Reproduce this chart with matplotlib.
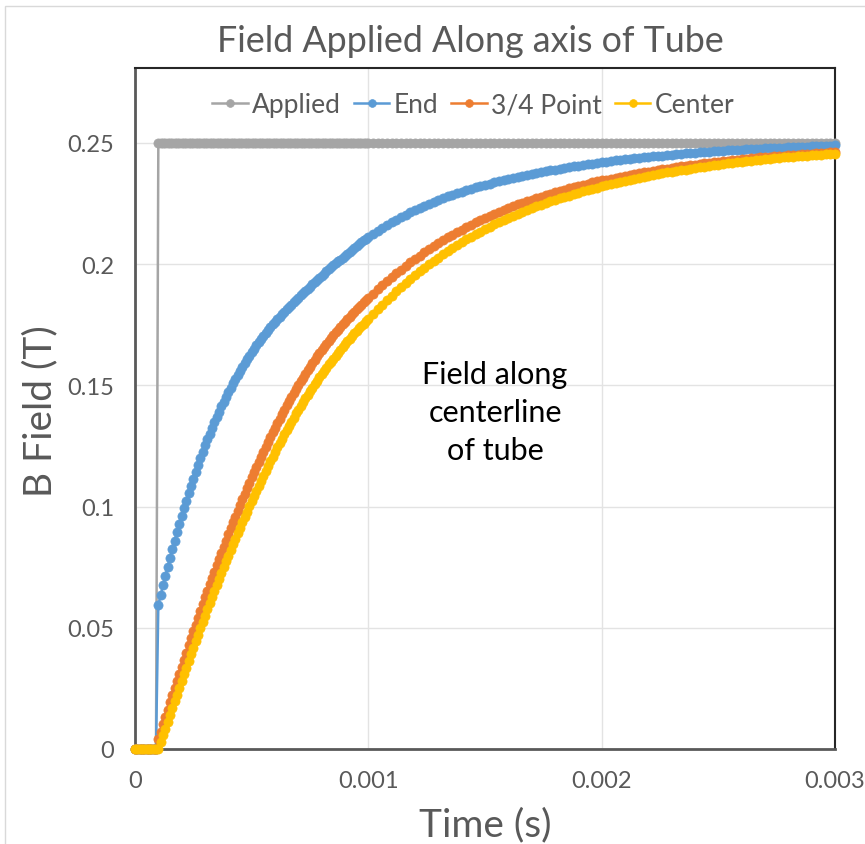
import matplotlib
matplotlib.use("Agg")
import matplotlib.pyplot as plt
from matplotlib.patches import Rectangle

# ---------------- data ----------------
# sampling grid: 10 us steps up to 1 ms, then 20 us steps to 3 ms
time_early = [round(i * 1e-5, 6) for i in range(101)]
time_late = [round(0.001 + i * 2e-5, 6) for i in range(1, 101)]
time_s = time_early + time_late

applied = [0.0] * 10 + [0.25] * 191

end_early = [0, 0, 0, 0, 0, 0, 0, 0, 0, 0,
             0.0594, 0.0635, 0.0675, 0.0714, 0.0752, 0.0789, 0.0825, 0.0860, 0.0895, 0.0929,
             0.0962, 0.0994, 0.1025, 0.1055, 0.1085, 0.1114, 0.1143, 0.1171, 0.1199, 0.1226,
             0.1252, 0.1277, 0.1301, 0.1325, 0.1348, 0.1370, 0.1392, 0.1413, 0.1433, 0.1453,
             0.1472, 0.1490, 0.1508, 0.1525, 0.1542, 0.1559, 0.1575, 0.1591, 0.1607, 0.1622,
             0.1637, 0.1651, 0.1665, 0.1678, 0.1691, 0.1704, 0.1716, 0.1728, 0.1740, 0.1751,
             0.1762, 0.1773, 0.1783, 0.1793, 0.1803, 0.1813, 0.1823, 0.1833, 0.1843, 0.1853,
             0.1862, 0.1871, 0.1880, 0.1889, 0.1898, 0.1907, 0.1916, 0.1925, 0.1934, 0.1943,
             0.1952, 0.1961, 0.1970, 0.1979, 0.1987, 0.1995, 0.2003, 0.2011, 0.2019, 0.2027,
             0.2035, 0.2043, 0.2051, 0.2059, 0.2067, 0.2075, 0.2083, 0.2091, 0.2098, 0.2105,
             0.2112]
end_late = [0.2125, 0.2137, 0.2149, 0.2161, 0.2172,
            0.2183, 0.2193, 0.2203, 0.2213, 0.2222,
            0.2231, 0.2240, 0.2248, 0.2256, 0.2264,
            0.2272, 0.2279, 0.2286, 0.2293, 0.2299,
            0.2305, 0.2311, 0.2317, 0.2322, 0.2327,
            0.2332, 0.2337, 0.2342, 0.2347, 0.2351,
            0.2356, 0.2360, 0.2364, 0.2368, 0.2372,
            0.2376, 0.2380, 0.2384, 0.2387, 0.2390,
            0.2394, 0.2397, 0.2400, 0.2403, 0.2406,
            0.2409, 0.2412, 0.2415, 0.2418, 0.2420,
            0.2423, 0.2426, 0.2428, 0.2430, 0.2432,
            0.2434, 0.2436, 0.2438, 0.2440, 0.2442,
            0.2444, 0.2446, 0.2448, 0.2450, 0.2451,
            0.2453, 0.2455, 0.2457, 0.2458, 0.2459,
            0.2461, 0.2462, 0.2464, 0.2465, 0.2466,
            0.2467, 0.2469, 0.2470, 0.2471, 0.2472,
            0.2473, 0.2474, 0.2475, 0.2476, 0.2477,
            0.2478, 0.2479, 0.2480, 0.2481, 0.2482,
            0.2483, 0.2484, 0.2484, 0.2485, 0.2486,
            0.2487, 0.2488, 0.2488, 0.2489, 0.2490]

three_quarter_early = [0, 0, 0, 0, 0, 0, 0, 0, 0, 0,
                       0.0040, 0.0071, 0.0102, 0.0132, 0.0162, 0.0192, 0.0222, 0.0252, 0.0282, 0.0311,
                       0.0340, 0.0369, 0.0398, 0.0427, 0.0456, 0.0485, 0.0513, 0.0541, 0.0569, 0.0597,
                       0.0625, 0.0652, 0.0679, 0.0706, 0.0732, 0.0758, 0.0784, 0.0810, 0.0835, 0.0860,
                       0.0885, 0.0910, 0.0935, 0.0959, 0.0983, 0.1007, 0.1030, 0.1053, 0.1076, 0.1098,
                       0.1120, 0.1142, 0.1164, 0.1185, 0.1206, 0.1227, 0.1247, 0.1267, 0.1287, 0.1306,
                       0.1325, 0.1344, 0.1363, 0.1381, 0.1399, 0.1417, 0.1434, 0.1451, 0.1468, 0.1484,
                       0.1500, 0.1516, 0.1532, 0.1547, 0.1562, 0.1577, 0.1591, 0.1605, 0.1619, 0.1632,
                       0.1645, 0.1658, 0.1671, 0.1683, 0.1695, 0.1707, 0.1719, 0.1730, 0.1741, 0.1752,
                       0.1763, 0.1773, 0.1783, 0.1793, 0.1803, 0.1813, 0.1823, 0.1833, 0.1842, 0.1851,
                       0.1860]
three_quarter_late = [0.1878, 0.1896, 0.1913, 0.1930, 0.1946,
                      0.1962, 0.1977, 0.1992, 0.2007, 0.2021,
                      0.2035, 0.2048, 0.2061, 0.2074, 0.2086,
                      0.2098, 0.2110, 0.2121, 0.2132, 0.2142,
                      0.2152, 0.2162, 0.2172, 0.2181, 0.2190,
                      0.2199, 0.2207, 0.2215, 0.2223, 0.2231,
                      0.2239, 0.2246, 0.2253, 0.2260, 0.2266,
                      0.2272, 0.2278, 0.2284, 0.2290, 0.2296,
                      0.2302, 0.2307, 0.2312, 0.2317, 0.2322,
                      0.2327, 0.2332, 0.2337, 0.2341, 0.2345,
                      0.2349, 0.2353, 0.2357, 0.2361, 0.2365,
                      0.2369, 0.2373, 0.2376, 0.2379, 0.2382,
                      0.2385, 0.2388, 0.2391, 0.2394, 0.2397,
                      0.2400, 0.2403, 0.2406, 0.2408, 0.2410,
                      0.2413, 0.2416, 0.2418, 0.2420, 0.2422,
                      0.2424, 0.2426, 0.2428, 0.2430, 0.2432,
                      0.2434, 0.2436, 0.2438, 0.2440, 0.2441,
                      0.2443, 0.2445, 0.2447, 0.2448, 0.2449,
                      0.2451, 0.2452, 0.2454, 0.2455, 0.2456,
                      0.2457, 0.2459, 0.2460, 0.2461, 0.2462]

center_early = [0, 0, 0, 0, 0, 0, 0, 0, 0, 0,
                0.0000, 0.0028, 0.0056, 0.0084, 0.0112, 0.0140, 0.0168, 0.0196, 0.0224, 0.0252,
                0.0280, 0.0308, 0.0336, 0.0363, 0.0390, 0.0417, 0.0444, 0.0471, 0.0498, 0.0524,
                0.0550, 0.0576, 0.0602, 0.0627, 0.0652, 0.0677, 0.0702, 0.0726, 0.0750, 0.0774,
                0.0797, 0.0821, 0.0844, 0.0867, 0.0890, 0.0913, 0.0935, 0.0957, 0.0979, 0.1001,
                0.1023, 0.1044, 0.1065, 0.1086, 0.1106, 0.1126, 0.1146, 0.1166, 0.1186, 0.1206,
                0.1225, 0.1244, 0.1262, 0.1280, 0.1298, 0.1316, 0.1333, 0.1350, 0.1367, 0.1384,
                0.1400, 0.1416, 0.1432, 0.1447, 0.1462, 0.1477, 0.1491, 0.1505, 0.1519, 0.1533,
                0.1547, 0.1560, 0.1573, 0.1586, 0.1598, 0.1610, 0.1622, 0.1634, 0.1646, 0.1658,
                0.1670, 0.1681, 0.1692, 0.1703, 0.1714, 0.1725, 0.1735, 0.1745, 0.1755, 0.1765,
                0.1775]
center_late = [0.1795, 0.1814, 0.1833, 0.1852, 0.1870,
               0.1888, 0.1905, 0.1922, 0.1938, 0.1954,
               0.1970, 0.1985, 0.1999, 0.2013, 0.2027,
               0.2040, 0.2053, 0.2066, 0.2078, 0.2090,
               0.2102, 0.2113, 0.2124, 0.2134, 0.2144,
               0.2154, 0.2164, 0.2173, 0.2182, 0.2191,
               0.2199, 0.2207, 0.2215, 0.2223, 0.2231,
               0.2238, 0.2245, 0.2252, 0.2259, 0.2265,
               0.2271, 0.2277, 0.2283, 0.2289, 0.2295,
               0.2301, 0.2306, 0.2311, 0.2316, 0.2321,
               0.2326, 0.2331, 0.2336, 0.2340, 0.2344,
               0.2348, 0.2352, 0.2356, 0.2360, 0.2364,
               0.2368, 0.2372, 0.2375, 0.2378, 0.2381,
               0.2384, 0.2387, 0.2390, 0.2393, 0.2396,
               0.2399, 0.2402, 0.2405, 0.2408, 0.2410,
               0.2413, 0.2416, 0.2418, 0.2420, 0.2422,
               0.2424, 0.2426, 0.2428, 0.2430, 0.2432,
               0.2434, 0.2436, 0.2438, 0.2440, 0.2441,
               0.2443, 0.2445, 0.2447, 0.2448, 0.2449,
               0.2451, 0.2452, 0.2454, 0.2455, 0.2456]

end_field = end_early + end_late
three_quarter = three_quarter_early + three_quarter_late
center = center_early + center_late

series_names = ["Applied", "End", "3/4 Point", "Center"]
series_values = [applied, end_field, three_quarter, center]
series_colors = ["#A5A5A5", "#5B9BD5", "#ED7D31", "#FFC000"]

x_ticks = [0, 0.001, 0.002, 0.003]
x_tick_labels = ["0", "0.001", "0.002", "0.003"]
y_ticks = [0, 0.05, 0.10, 0.15, 0.20, 0.25]
y_tick_labels = ["0", "0.05", "0.1", "0.15", "0.2", "0.25"]

title_text = "Field Applied Along axis of Tube"
x_label = "Time (s)"
y_label = "B Field (T)"
note_text = "Field along\ncenterline\nof tube"

# ---------------- figure ----------------
plt.rcParams["font.family"] = ["Lato", "DejaVu Sans"]
W, H = 865, 845
fig = plt.figure(figsize=(W / 100, H / 100), dpi=100)
fig.patch.set_facecolor("white")

fig.patches.append(Rectangle((5 / W, -0.01), 1.0, 1 - 7 / H + 0.01, transform=fig.transFigure,
                             facecolor="none", edgecolor="#d9d9d9", linewidth=1.0))

ax = fig.add_axes([135 / W, 1 - 750 / H, 700 / W, 681 / H])
ax.set_xlim(0, 0.003)
ax.set_ylim(0, 0.2809)

for name, vals, col in zip(series_names, series_values, series_colors):
    ax.plot(time_s, vals, color=col, linewidth=1.8, marker="o", markersize=6.6,
            markerfacecolor=col, markeredgecolor=col, markeredgewidth=0.5,
            label=name, clip_on=False, zorder=3)

ax.set_xticks(x_ticks)
ax.set_xticklabels(x_tick_labels)
ax.set_yticks(y_ticks)
ax.set_yticklabels(y_tick_labels)
ax.tick_params(axis="both", length=0, labelsize=17, labelcolor="#595959")
ax.tick_params(axis="y", pad=15)
ax.tick_params(axis="x", pad=15)
ax.grid(True, color="#e3e3e3", linewidth=1.0, zorder=0)
ax.set_axisbelow(True)
for side in ["left", "bottom"]:
    ax.spines[side].set_color("#595959")
    ax.spines[side].set_linewidth(2.0)
for side in ["top", "right"]:
    ax.spines[side].set_color("#262626")
    ax.spines[side].set_linewidth(1.5)

leg = ax.legend(loc="center", bbox_to_anchor=(0.483, 0.9457), ncol=4, frameon=False,
                fontsize=19, handlelength=1.35, handletextpad=0.15, columnspacing=0.5,
                borderaxespad=0, markerscale=0.85)
for txt in leg.get_texts():
    txt.set_color("#595959")

ax.text(0.001543, 0.139, note_text, ha="center", va="center", fontsize=22,
        color="black", linespacing=1.45, zorder=4)

fig.text(470 / W, 1 - 42 / H, title_text, ha="center", va="center", fontsize=25.8,
         color="#595959")
fig.text(485 / W, 1 - 825 / H, x_label, ha="center", va="center", fontsize=28,
         color="#595959")
fig.text(40 / W, 1 - 411 / H, y_label, ha="center", va="center", fontsize=28,
         color="#595959", rotation=90)

fig.savefig("out.png", dpi=100, facecolor="white")
